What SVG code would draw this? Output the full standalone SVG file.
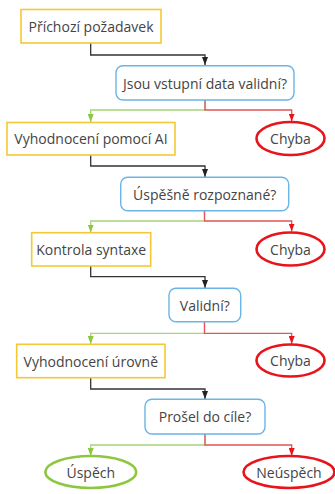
<svg xmlns="http://www.w3.org/2000/svg" width="335" height="494" viewBox="0 0 335 494">
<style>
text{font-family:"Open Sans","Noto Sans",sans-serif;font-size:14px;fill:#444;text-anchor:middle;dominant-baseline:central}
.y{fill:#fff;stroke:#f4c834;stroke-width:1.6}
.b{fill:#fff;stroke:#6ab4e8;stroke-width:1.4}
.r{fill:#fff;stroke:#e8141c;stroke-width:2.6}
.g{fill:#fff;stroke:#8dc63f;stroke-width:2.6}
.ck{fill:none;stroke:#333;stroke-width:1.3}
.cg{fill:none;stroke:#a8d47a;stroke-width:1.3}
.cr{fill:none;stroke:#e05555;stroke-width:1.3}
</style>
<defs>
<marker id="ak" markerWidth="6" markerHeight="8" refX="3" refY="8" orient="0" markerUnits="userSpaceOnUse"><path d="M0,0 L6,0 L3,8 Z" fill="#222"/></marker>
<marker id="ag" markerWidth="6" markerHeight="8" refX="3" refY="8" orient="0" markerUnits="userSpaceOnUse"><path d="M0,0 L6,0 L3,8 Z" fill="#8dc63f"/></marker>
<marker id="ar" markerWidth="6" markerHeight="8" refX="3" refY="8" orient="0" markerUnits="userSpaceOnUse"><path d="M0,0 L6,0 L3,8 Z" fill="#e8141c"/></marker>
</defs>
<g id="connectors">
<path class="ck" d="M90.7,43 V55 H205 V65" marker-end="url(#ak)"/>
<path class="cg" d="M205,100 V110 H90.7 V122" marker-end="url(#ag)"/>
<path class="cr" d="M205,100 V110 H291.7 V121.5" marker-end="url(#ar)"/>
<path class="ck" d="M90.7,155 V166 H205 V177" marker-end="url(#ak)"/>
<path class="cg" d="M204.5,210.7 V221 H90.7 V232.5" marker-end="url(#ag)"/>
<path class="cr" d="M204.5,210.7 V221 H291.7 V231.5" marker-end="url(#ar)"/>
<path class="ck" d="M90.7,266 V276.7 H205 V288" marker-end="url(#ak)"/>
<path class="cg" d="M204.5,321.7 V333.3 H90.7 V344" marker-end="url(#ag)"/>
<path class="cr" d="M204.5,321.7 V333.3 H291.7 V344" marker-end="url(#ar)"/>
<path class="ck" d="M90.7,377.7 V389 H205 V399" marker-end="url(#ak)"/>
<path class="cg" d="M205,434 V445 H90.7 V456" marker-end="url(#ag)"/>
<path class="cr" d="M205,434 V445 H291.7 V456" marker-end="url(#ar)"/>
</g>
<g id="n1"><rect class="y" x="21" y="9.5" width="140" height="33.5"/><text x="91" y="26">Příchozí požadavek</text></g>
<g id="n2"><rect class="b" x="116" y="65.7" width="178" height="34.3" rx="7"/><text x="205" y="83">Jsou vstupní data validní?</text></g>
<g id="n3"><rect class="y" x="7" y="122.5" width="168" height="32.5"/><text x="91" y="138.5">Vyhodnocení pomocí AI</text></g>
<g id="n4"><ellipse class="r" cx="290.5" cy="138.5" rx="34" ry="16.5"/><text x="290.5" y="138.5">Chyba</text></g>
<g id="n5"><rect class="b" x="120.7" y="177.3" width="168" height="33.4" rx="7"/><text x="204.7" y="194">Úspěšně rozpoznané?</text></g>
<g id="n6"><rect class="y" x="31.7" y="232.7" width="119" height="33.3"/><text x="91.2" y="249.3">Kontrola syntaxe</text></g>
<g id="n7"><ellipse class="r" cx="290.5" cy="249" rx="34" ry="16.5"/><text x="290.5" y="249">Chyba</text></g>
<g id="n8"><rect class="b" x="169" y="288.3" width="71.7" height="33.4" rx="7"/><text x="204.8" y="305">Validní?</text></g>
<g id="n9"><rect class="y" x="16.7" y="344.3" width="148.3" height="33.4"/><text x="90.8" y="361">Vyhodnocení úrovně</text></g>
<g id="n10"><ellipse class="r" cx="290.5" cy="360.5" rx="34" ry="16"/><text x="290.5" y="360.5">Chyba</text></g>
<g id="n11"><rect class="b" x="145" y="399.3" width="120" height="34.7" rx="7"/><text x="205" y="416.6">Prošel do cíle?</text></g>
<g id="n12"><ellipse class="g" cx="90.8" cy="472" rx="45.5" ry="16"/><text x="90.8" y="472">Úspěch</text></g>
<g id="n13"><ellipse class="r" cx="289" cy="472" rx="45.5" ry="16"/><text x="289" y="472">Neúspěch</text></g>
</svg>
